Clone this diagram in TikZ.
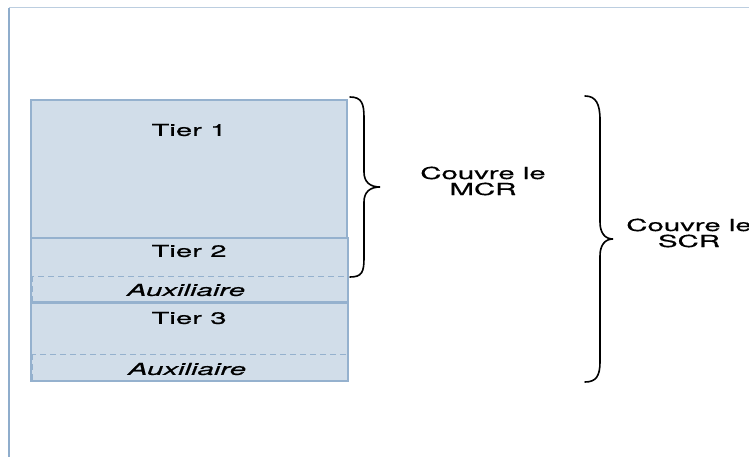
\documentclass[tikz,border=0pt]{standalone}
\usepackage{fontspec}
\setmainfont{TeX Gyre Heros}[FakeStretch=1.78,FakeBold=0.6]
\definecolor{boxfill}{HTML}{D1DDE9}
\definecolor{boxline}{HTML}{95B1CE}
\definecolor{frameline}{HTML}{8FADCC}
\begin{document}
\begin{tikzpicture}[x=1pt,y=-1pt,
  tier/.style={fill=boxfill,draw=boxline,line width=1.2pt},
  aux/.style={draw=boxline,dashed,dash pattern=on 6pt off 4pt,line width=1pt},
  lbl/.style={font=\fontsize{16.5}{16}\selectfont,align=center,inner sep=0pt},
  brace/.style={draw=black,line width=1.6pt,line cap=round}]
\useasboundingbox (0,0) rectangle (749,457);
% frame
\draw[frameline,line width=2pt] (9,8) -- (9,457);
\draw[frameline!60,line width=1pt] (9,8) -- (749,8);
% boxes
\draw[tier] (31,100) rectangle (347,238);
\draw[tier] (31,238) rectangle (348,302);
\draw[tier] (31,303) rectangle (348,381);
\draw[aux] (32,276) rectangle (347,302);
\draw[aux] (32,354) rectangle (347,381);
% labels
\node[lbl] (t1) at (189,130) {Tier 1};
\node[lbl] (t2) at (189,251) {Tier 2};
\node[lbl] (a1) at (186,290) {\itshape Auxiliaire};
\node[lbl] (t3) at (189,318) {Tier 3};
\node[lbl] (a2) at (187,369) {\itshape Auxiliaire};
\node[lbl] (mcr) at (483,181) {Couvre le\\MCR};
\node[lbl] (scr) at (689,233) {Couvre le\\SCR};
% braces
\draw[brace] (350,97) .. controls (362,97) and (364,104) .. (364,118)
  -- (364,172) .. controls (364,182) and (370,187) .. (380,187)
  .. controls (370,187) and (364,192) .. (364,202)
  -- (364,258) .. controls (364,272) and (362,277) .. (350,277);
\draw[brace] (585,96) .. controls (596,96) and (600,104) .. (600,120)
  -- (600,222) .. controls (600,233) and (605,239) .. (613,239)
  .. controls (605,239) and (600,245) .. (600,256)
  -- (600,362) .. controls (600,376) and (596,382) .. (585,382);
\end{tikzpicture}
\end{document}
